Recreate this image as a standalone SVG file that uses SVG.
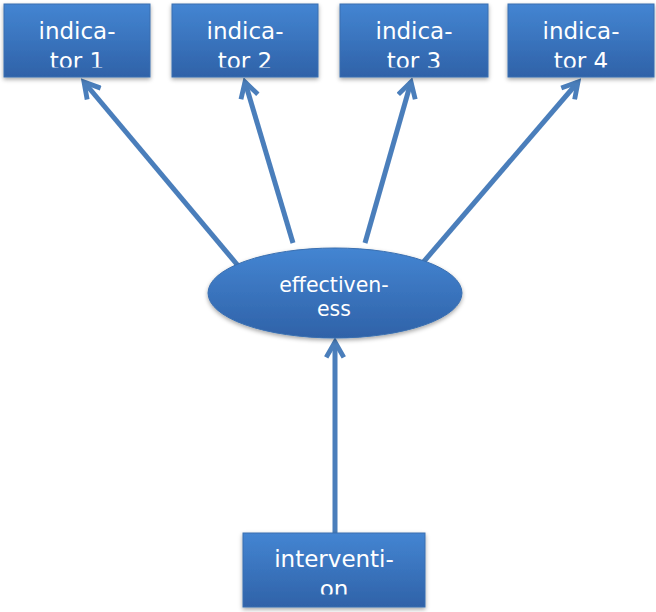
<svg xmlns="http://www.w3.org/2000/svg" width="656" height="612" viewBox="0 0 656 612">
<style>
.box{fill:url(#g);stroke:#3a6fb0;stroke-width:1}
.t{font-family:"DejaVu Sans","Liberation Sans",Arial,sans-serif;fill:#fff;text-anchor:middle}
.tb{font-size:23px}
.te{font-size:20.5px}
.c{stroke:#4a7ebb;stroke-width:5;fill:none;marker-end:url(#ah)}
</style>
<defs>
<linearGradient id="g" x1="0" y1="0" x2="0" y2="1">
<stop offset="0" stop-color="#4485d2"/>
<stop offset="1" stop-color="#2f62a8"/>
</linearGradient>
<filter id="sh" x="-10%" y="-10%" width="120%" height="130%">
<feDropShadow dx="0" dy="2" stdDeviation="2" flood-color="#000" flood-opacity="0.35"/>
</filter>
<marker id="ah" viewBox="0 0 10 10" refX="8" refY="5" markerWidth="4.4" markerHeight="4.4" orient="auto" markerUnits="strokeWidth">
<path d="M1,1 L8,5 L1,9" fill="none" stroke="#4a7ebb" stroke-width="2.2" stroke-linejoin="miter"/>
</marker>
<clipPath id="c1"><rect x="4" y="4" width="146" height="63.5"/></clipPath>
<clipPath id="c2"><rect x="172" y="4" width="146" height="63.5"/></clipPath>
<clipPath id="c3"><rect x="340" y="4" width="148" height="63.5"/></clipPath>
<clipPath id="c4"><rect x="508" y="4" width="146" height="63.5"/></clipPath>
<clipPath id="c5"><rect x="243" y="533" width="182" height="61.5"/></clipPath>
</defs>
<g id="connectors">
<line class="c" x1="240" y1="268" x2="84" y2="82"/>
<line class="c" x1="293" y1="243" x2="245" y2="82"/>
<line class="c" x1="365" y1="243" x2="411" y2="82"/>
<line class="c" x1="420" y1="266" x2="578" y2="82"/>
<line class="c" x1="335" y1="535" x2="335" y2="342"/>
</g>
<g id="indicator1">
<rect class="box" x="4" y="4" width="146" height="73" filter="url(#sh)"/>
<g clip-path="url(#c1)"><text class="t tb" x="77" y="39">indica-</text><text class="t tb" x="77" y="68.5">tor 1</text></g>
</g>
<g id="indicator2">
<rect class="box" x="172" y="4" width="146" height="73" filter="url(#sh)"/>
<g clip-path="url(#c2)"><text class="t tb" x="245" y="39">indica-</text><text class="t tb" x="245" y="68.5">tor 2</text></g>
</g>
<g id="indicator3">
<rect class="box" x="340" y="4" width="148" height="73" filter="url(#sh)"/>
<g clip-path="url(#c3)"><text class="t tb" x="414" y="39">indica-</text><text class="t tb" x="414" y="68.5">tor 3</text></g>
</g>
<g id="indicator4">
<rect class="box" x="508" y="4" width="146" height="73" filter="url(#sh)"/>
<g clip-path="url(#c4)"><text class="t tb" x="581" y="39">indica-</text><text class="t tb" x="581" y="68.5">tor 4</text></g>
</g>
<g id="effectiveness">
<ellipse class="box" cx="335" cy="293" rx="127" ry="45" filter="url(#sh)"/>
<text class="t te" x="334" y="292">effectiven-</text>
<text class="t te" x="334" y="316">ess</text>
</g>
<g id="intervention">
<rect class="box" x="243" y="533" width="182" height="74" filter="url(#sh)"/>
<g clip-path="url(#c5)"><text class="t tb" x="334" y="567">interventi-</text><text class="t tb" x="334" y="597">on</text></g>
</g>
</svg>
